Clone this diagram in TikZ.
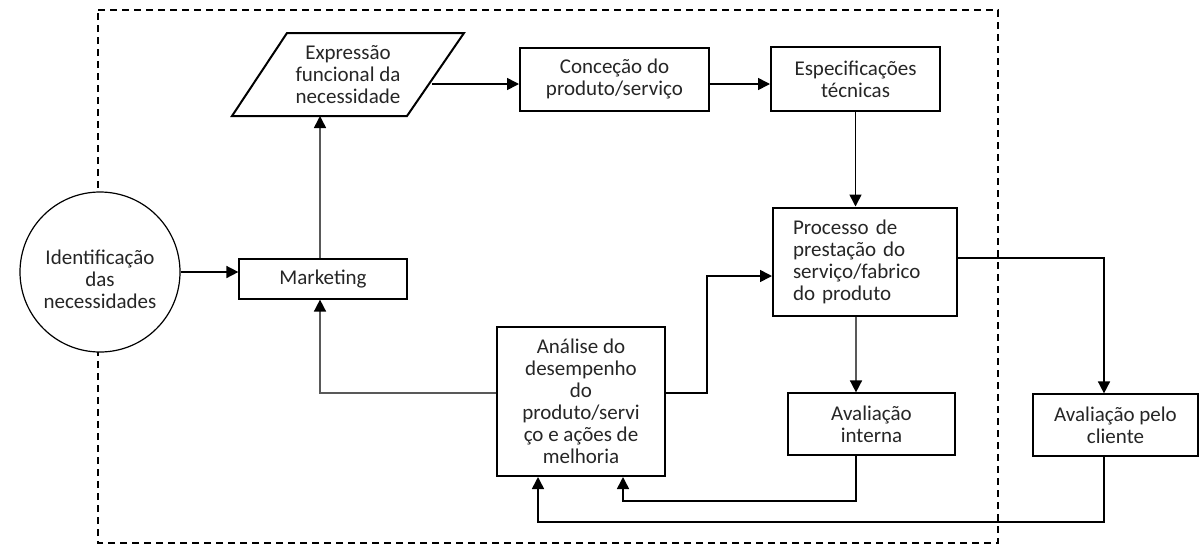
\documentclass[tikz,border=0pt]{standalone}
\usepackage{fontspec}
\setmainfont{Carlito}
\usetikzlibrary{arrows.meta}
\tikzset{
  thickbox/.style={draw=black, line width=2pt, inner sep=0pt, align=center, fill=white},
  thinbox/.style={draw=black, line width=1.2pt, inner sep=0pt, align=center, fill=white},
  arr/.style={draw=black, line width=1.6pt, -{Triangle[length=12pt,width=12pt]}},
  garr/.style={draw=black!65, line width=1.6pt, -{Triangle[length=12pt,width=12pt,fill=black,color=black]}},
  frame/.style={draw=black, line width=1.3pt, dash pattern=on 7pt off 5pt}
}
\begin{document}
\begin{tikzpicture}[x=1pt,y=-1pt, font=\fontsize{21}{22}\selectfont, text=black!85]
\useasboundingbox (0,0) rectangle (1199,547);
% dashed frame
\draw[frame] (98,10) -- (998,10) -- (998,543) -- (98,543) -- cycle;
% circle
\node[circle, draw=black, line width=1.2pt, fill=white, minimum size=160pt, inner sep=0pt] (circ) at (100,272) {};
\node[align=center, inner sep=0pt] (circt) at (100,279) {Identificação\\das\\necessidades};
% parallelogram
\coordinate (pTL) at (287,33);
\coordinate (pTR) at (464,33);
\coordinate (pBR) at (407,116);
\coordinate (pBL) at (232,116);
\draw[line width=2pt, fill=white] (pTL) -- (pTR) -- (pBR) -- (pBL) -- cycle;
\node[align=center, inner sep=0pt] (expr) at (348,75) {Expressão\\funcional da\\necessidade};
\coordinate (exprB) at (320,116);
\coordinate (exprR) at (432,84);
% boxes
\node[thinbox, minimum width=168pt, minimum height=40pt] (mkt) at (323,279) {Marketing};
\node[thickbox, minimum width=189pt, minimum height=63pt] (conc) at (614.5,79) {Conceção do\\produto/serviço};
\node[thickbox, minimum width=169pt, minimum height=64pt] (espec) at (855.5,79) {Especificações\\técnicas};
\node[thickbox, minimum width=184pt, minimum height=108pt, text width=144pt, align=left, inner xsep=20pt] (proc) at (865,261.5) {Processo de\\prestação do\\serviço/fabrico\\do produto};
\node[thickbox, minimum width=168pt, minimum height=149pt] (ana) at (581,401.5) {Análise do\\desempenho\\do\\produto/servi\\ço e ações de\\melhoria};
\node[thinbox, minimum width=167pt, minimum height=62pt] (int) at (871.5,424) {Avaliação\\interna};
\node[thinbox, minimum width=165pt, minimum height=62pt] (cli) at (1115.5,425) {Avaliação pelo\\cliente};
% helper coordinates
\coordinate (k1) at (1104,258);
\coordinate (k2) at (538,522);
\coordinate (k3) at (623,501);
\coordinate (k4) at (856,501);
\coordinate (k5) at (707,393);
\coordinate (k6) at (707,276);
% connectors
\draw[arr] (circ.east) -- (circ.east -| mkt.west);
\draw[garr] (mkt.north -| exprB) -- (exprB);
\draw[arr] (exprR) -- (conc.west |- exprR);
\draw[arr] (conc.east |- exprR) -- (espec.west |- exprR);
\draw[arr] (espec.south) -- (espec.south |- proc.north);
\draw[arr] (proc.east |- k1) -- (k1) -- (k1 |- cli.north);
\draw[arr] (cli.south -| k1) -- (k1 |- k2) -- (k2) -- (k2 |- ana.south);
\draw[garr] (proc.south -| k4) -- (k4 |- int.north);
\draw[arr] (int.south -| k4) -- (k4) -- (k3) -- (k3 |- ana.south);
\draw[arr] (ana.east |- k5) -- (k5) -- (k6) -- (proc.west |- k6);
\draw[garr] (ana.west |- k5) -- (k5 -| exprB) -- (mkt.south -| exprB);
\end{tikzpicture}
\end{document}
